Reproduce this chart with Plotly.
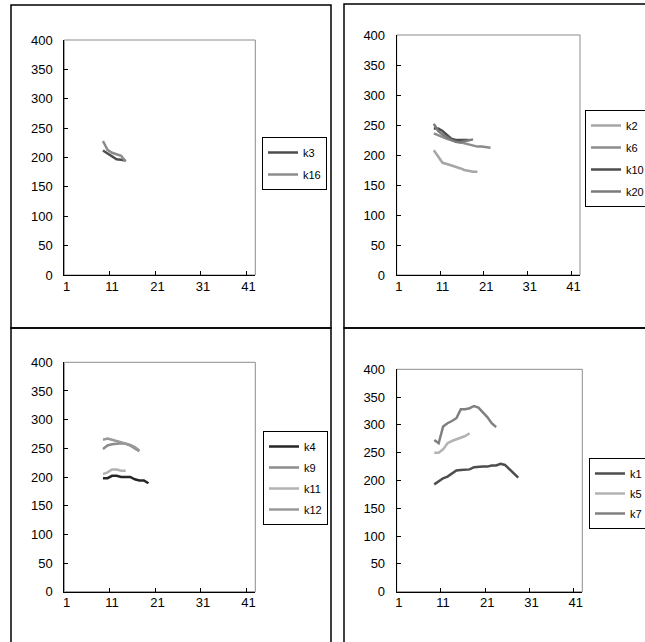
import plotly.graph_objects as go

# ---------------- data ----------------
tick_labels = [1, 11, 21, 31, 41]

# panel 1
p1_x = list(range(9, 15))
k3 = [212, 207, 202, 197, 196, 195]
k16 = [228, 213, 208, 205, 203, 193]

# panel 2
k2_x = list(range(9, 20))
k2 = [208, 197, 187, 185, 183, 180, 178, 175, 173, 172, 172]
k6_x = list(range(9, 23))
k6 = [236, 233, 229, 227, 225, 223, 222, 220, 218, 216, 214, 214, 213, 212]
k10_x = list(range(9, 18))
k10 = [244, 244, 240, 233, 227, 225, 225, 225, 225]
k20_x = list(range(9, 19))
k20 = [252, 240, 234, 229, 225, 222, 221, 223, 224, 226]

# panel 3
k4_x = list(range(9, 20))
k4 = [198, 198, 202, 202, 200, 200, 200, 196, 194, 194, 189]
k9_x = list(range(9, 18))
k9 = [249, 255, 257, 258, 259, 258, 255, 250, 245]
k11_x = list(range(9, 15))
k11 = [205, 208, 213, 213, 211, 211]
k12_x = list(range(9, 18))
k12 = [265, 267, 265, 263, 261, 259, 256, 252, 246]

# panel 4
k1_x = list(range(9, 29))
k1 = [193, 199, 204, 207, 212, 218, 219, 219, 220, 224, 225, 225, 225, 227, 227, 230, 228, 220, 212, 205]
k5_x = list(range(9, 18))
k5 = [250, 250, 256, 267, 271, 274, 277, 280, 285]
k7_x = list(range(9, 24))
k7 = [273, 267, 297, 303, 307, 312, 328, 328, 330, 334, 331, 323, 314, 303, 296]

W, H = 645, 642
def px(x):
    return x / W
def py(y):
    return (H - y) / H

FONT = "Liberation Sans, Arial, sans-serif"

fig = go.Figure()

panels = [
    # (axis suffix, legend id, series list, x domain px, y domain px (top,bottom), legend pos px, gap)
    ("", "legend",
     [("k3", p1_x, k3, "#4d4d4d"), ("k16", p1_x, k16, "#8c8c8c")],
     (64.3, 255.3), (40, 275), (262, 137), 3),
    ("2", "legend2",
     [("k2", k2_x, k2, "#a6a6a6"), ("k6", k6_x, k6, "#8c8c8c"),
      ("k10", k10_x, k10, "#4d4d4d"), ("k20", k20_x, k20, "#7a7a7a")],
     (396.7, 580.0), (35, 275), (585, 110), 3),
    ("3", "legend3",
     [("k4", k4_x, k4, "#262626"), ("k9", k9_x, k9, "#8c8c8c"),
      ("k11", k11_x, k11, "#b3b3b3"), ("k12", k12_x, k12, "#999999")],
     (64.3, 255.3), (362.3, 591.7), (263, 431), 2),
    ("4", "legend4",
     [("k1", k1_x, k1, "#4d4d4d"), ("k5", k5_x, k5, "#b3b3b3"), ("k7", k7_x, k7, "#808080")],
     (396.7, 582.3), (369.3, 591.7), (589, 458), 1),
]

layout = dict(
    width=W, height=H,
    margin=dict(l=0, r=0, t=0, b=0, autoexpand=False),
    paper_bgcolor="white", plot_bgcolor="white",
    font=dict(family=FONT, color="black", size=13),
    showlegend=True,
    shapes=[],
)

for suf, leg, series, xd, yd, lp, gap in panels:
    xa = "x" + suf
    ya = "y" + suf
    for name, xs, ys, col in series:
        fig.add_trace(go.Scatter(
            x=xs, y=ys, mode="lines", name=name,
            line=dict(color=col, width=2.5),
            xaxis=xa, yaxis=ya, legend=leg, legendgroup=leg + name,
        ))
    layout["xaxis" + suf] = dict(
        domain=[px(xd[0]), px(xd[1])], anchor=ya,
        range=[0.5, 42.5], tickmode="array", tickvals=tick_labels,
        ticktext=[str(t) for t in tick_labels], ticks="",
        showline=True, linecolor="black", linewidth=1,
        showgrid=False, zeroline=False, ticklabelstandoff=-1,
        tickfont=dict(size=13, family=FONT, color="black"),
        minor=dict(tickmode="array", tickvals=[10.5, 20.5, 30.5, 40.5],
                   ticks="inside", ticklen=4, tickcolor="black", tickwidth=1,
                   showgrid=False),
    )
    layout["yaxis" + suf] = dict(
        domain=[py(yd[1]), py(yd[0])], anchor=xa,
        range=[0, 400], dtick=50, tick0=0,
        ticks="inside", ticklen=4, tickcolor="black",
        showline=True, linecolor="black", linewidth=1,
        showgrid=False, zeroline=False, ticklabelstandoff=8,
        tickfont=dict(size=13, family=FONT, color="black"),
    )
    layout[leg] = dict(
        x=px(lp[0]), y=py(lp[1]), xanchor="left", yanchor="top",
        bgcolor="white", bordercolor="black", borderwidth=1,
        font=dict(size=11, family=FONT, color="black"),
        tracegroupgap=gap, itemwidth=30, traceorder="grouped",
    )
    # gray plot-area frame (top/right)
    layout["shapes"].append(dict(
        type="rect", xref=xa + " domain", yref=ya + " domain",
        x0=0, x1=1, y0=0, y1=1, line=dict(color="#8c8c8c", width=1),
        layer="below",
    ))

# panel frames
frames = [(11, 5, 331, 328), (344, 4, 700, 328), (11, 328, 331, 700), (344, 328, 700, 700)]
for x0, y0, x1, y1 in frames:
    layout["shapes"].append(dict(
        type="rect", xref="paper", yref="paper",
        x0=px(x0), x1=px(x1), y0=py(y1), y1=py(y0),
        line=dict(color="black", width=1.5), layer="above",
    ))

fig.update_layout(**layout)
fig.write_html("out.html",
               config={"displayModeBar": False},
               post_script="document.body.style.margin='0px';document.body.style.overflow='hidden';")
